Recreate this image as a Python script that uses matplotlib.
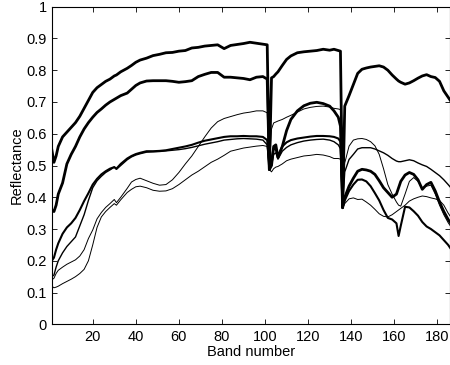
import matplotlib
matplotlib.use("Agg")
import matplotlib.pyplot as plt

plt.rcParams['font.family'] = ['Liberation Sans', 'DejaVu Sans']

bands = [1, 2, 3, 4, 6, 8, 10, 12, 14, 16,
         18, 20, 22, 24, 26, 28, 30, 31, 33, 36,
         38, 40, 42, 45, 48, 51, 54, 57, 60, 63,
         66, 69, 72, 75, 78, 81, 84, 87, 90, 93,
         96, 99, 101, 102, 103, 104, 105, 106, 108, 110,
         112, 115, 118, 121, 124, 127, 130, 132, 134, 135,
         136, 137, 139, 141, 143, 145, 147, 149, 151, 153,
         155, 157, 159, 161, 162, 163, 165, 167, 169, 171,
         173, 175, 177, 179, 181, 183, 185, 186]

refl_a = [0.55, 0.51, 0.53, 0.56, 0.59, 0.605, 0.62, 0.635, 0.655, 0.68,
          0.705, 0.73, 0.745, 0.755, 0.765, 0.772, 0.782, 0.785, 0.795, 0.806,
          0.815, 0.825, 0.832, 0.838, 0.846, 0.85, 0.855, 0.856, 0.86, 0.862,
          0.87, 0.872, 0.876, 0.878, 0.88, 0.868, 0.878, 0.881, 0.884, 0.888,
          0.885, 0.882, 0.88, 0.487, 0.776, 0.78, 0.788, 0.795, 0.815, 0.834,
          0.845, 0.855, 0.858, 0.86, 0.862, 0.866, 0.863, 0.866, 0.862, 0.86,
          0.367, 0.687, 0.72, 0.755, 0.79, 0.803, 0.807, 0.81, 0.812, 0.814,
          0.81, 0.8, 0.785, 0.772, 0.766, 0.762, 0.756, 0.76, 0.767, 0.775,
          0.782, 0.786, 0.78, 0.777, 0.765, 0.735, 0.715, 0.705]

refl_b = [0.36, 0.355, 0.375, 0.41, 0.445, 0.505, 0.535, 0.56, 0.59, 0.615,
          0.635, 0.652, 0.667, 0.678, 0.69, 0.70, 0.708, 0.712, 0.72, 0.728,
          0.74, 0.752, 0.76, 0.766, 0.767, 0.767, 0.767, 0.765, 0.762, 0.764,
          0.767, 0.78, 0.787, 0.793, 0.793, 0.778, 0.778, 0.776, 0.774, 0.77,
          0.778, 0.78, 0.772, 0.487, 0.50, 0.56, 0.565, 0.525, 0.56, 0.61,
          0.645, 0.672, 0.688, 0.696, 0.699, 0.695, 0.687, 0.672, 0.652, 0.624,
          0.367, 0.40, 0.435, 0.46, 0.482, 0.488, 0.486, 0.482, 0.472, 0.452,
          0.43, 0.415, 0.40, 0.41, 0.43, 0.45, 0.47, 0.478, 0.472, 0.455,
          0.425, 0.44, 0.447, 0.42, 0.385, 0.355, 0.33, 0.32]

refl_c = [0.20, 0.21, 0.235, 0.255, 0.285, 0.305, 0.318, 0.335, 0.36, 0.388,
          0.413, 0.44, 0.458, 0.472, 0.482, 0.49, 0.495, 0.49, 0.505, 0.522,
          0.53, 0.536, 0.54, 0.545, 0.545, 0.546, 0.548, 0.552, 0.556, 0.56,
          0.565, 0.572, 0.578, 0.582, 0.586, 0.59, 0.592, 0.592, 0.593, 0.592,
          0.592, 0.59, 0.58, 0.487, 0.52, 0.555, 0.55, 0.53, 0.56, 0.573,
          0.58, 0.585, 0.588, 0.591, 0.593, 0.593, 0.592, 0.59, 0.585, 0.575,
          0.367, 0.39, 0.42, 0.44, 0.455, 0.456, 0.45, 0.435, 0.413, 0.39,
          0.36, 0.335, 0.33, 0.318, 0.278, 0.31, 0.37, 0.368, 0.356, 0.342,
          0.322, 0.308, 0.30, 0.29, 0.28, 0.265, 0.25, 0.24]

refl_d = [0.15, 0.155, 0.18, 0.20, 0.225, 0.245, 0.26, 0.275, 0.31, 0.345,
          0.39, 0.43, 0.452, 0.466, 0.478, 0.486, 0.495, 0.488, 0.50, 0.518,
          0.527, 0.533, 0.537, 0.542, 0.543, 0.544, 0.546, 0.548, 0.55, 0.553,
          0.557, 0.562, 0.567, 0.571, 0.575, 0.58, 0.582, 0.584, 0.585, 0.584,
          0.583, 0.58, 0.565, 0.487, 0.50, 0.535, 0.54, 0.52, 0.545, 0.557,
          0.565, 0.572, 0.577, 0.58, 0.582, 0.583, 0.58, 0.575, 0.565, 0.553,
          0.367, 0.48, 0.519, 0.535, 0.552, 0.556, 0.556, 0.556, 0.552, 0.546,
          0.54, 0.532, 0.522, 0.514, 0.512, 0.512, 0.515, 0.518, 0.515, 0.508,
          0.502, 0.497, 0.488, 0.478, 0.468, 0.455, 0.44, 0.432]

refl_e = [0.14, 0.145, 0.16, 0.17, 0.18, 0.189, 0.196, 0.203, 0.215, 0.235,
          0.27, 0.297, 0.332, 0.352, 0.368, 0.38, 0.393, 0.383, 0.40, 0.428,
          0.448, 0.456, 0.46, 0.452, 0.444, 0.438, 0.44, 0.455, 0.478, 0.505,
          0.53, 0.56, 0.59, 0.618, 0.638, 0.648, 0.654, 0.66, 0.665, 0.668,
          0.672, 0.672, 0.666, 0.487, 0.615, 0.634, 0.637, 0.64, 0.645, 0.652,
          0.658, 0.668, 0.678, 0.683, 0.686, 0.687, 0.684, 0.68, 0.678, 0.676,
          0.367, 0.508, 0.561, 0.58, 0.584, 0.585, 0.582, 0.575, 0.562, 0.535,
          0.49, 0.44, 0.41, 0.385, 0.375, 0.372, 0.41, 0.45, 0.462, 0.45,
          0.43, 0.435, 0.438, 0.41, 0.375, 0.345, 0.32, 0.31]

refl_f = [0.12, 0.115, 0.117, 0.12, 0.128, 0.135, 0.142, 0.15, 0.16, 0.173,
          0.20, 0.25, 0.305, 0.338, 0.355, 0.368, 0.38, 0.375, 0.392, 0.415,
          0.425, 0.433, 0.435, 0.43, 0.422, 0.419, 0.42, 0.427, 0.44, 0.455,
          0.47, 0.482, 0.496, 0.51, 0.52, 0.532, 0.545, 0.55, 0.555, 0.558,
          0.561, 0.563, 0.56, 0.487, 0.48, 0.49, 0.495, 0.497, 0.505, 0.515,
          0.52, 0.525, 0.53, 0.532, 0.535, 0.533, 0.528, 0.522, 0.522, 0.52,
          0.367, 0.38, 0.395, 0.398, 0.393, 0.394, 0.385, 0.375, 0.362, 0.348,
          0.34, 0.338, 0.345, 0.355, 0.36, 0.365, 0.375, 0.388, 0.395, 0.40,
          0.404, 0.402, 0.398, 0.395, 0.39, 0.375, 0.35, 0.34]

series = [refl_f, refl_e, refl_d, refl_c, refl_b, refl_a]
widths = [0.7, 0.7, 1.0, 1.5, 2.0, 2.0]

x_ticks = [20, 40, 60, 80, 100, 120, 140, 160, 180]
y_ticks = [0, 0.1, 0.2, 0.3, 0.4, 0.5, 0.6, 0.7, 0.8, 0.9, 1]
y_tick_labels = ["0", "0.1", "0.2", "0.3", "0.4", "0.5", "0.6", "0.7", "0.8", "0.9", "1"]

fig = plt.figure(figsize=(4.5, 3.65), dpi=100)
ax = fig.add_axes([51.8 / 450, 40.7 / 365, 398.5 / 450, 317.6 / 365])

for vals, lw in zip(series, widths):
    ax.plot(bands, vals, color='black', linewidth=lw, solid_joinstyle='round')

ax.set_xlim(1, 186)
ax.set_ylim(0, 1)
ax.set_xticks(x_ticks)
ax.set_yticks(y_ticks)
ax.set_yticklabels(y_tick_labels)
ax.tick_params(direction='in', length=3.5, width=0.6, top=True, right=True,
               labelsize=10.5, colors='black')
ax.tick_params(axis='x', pad=4)
ax.tick_params(axis='y', pad=3.5)
for sp in ax.spines.values():
    sp.set_linewidth(0.8)
ax.set_xlabel("Band number", fontsize=10.5, labelpad=1)
ax.set_ylabel("Reflectance", fontsize=10.5, labelpad=2)

fig.savefig("out.png", dpi=100)
